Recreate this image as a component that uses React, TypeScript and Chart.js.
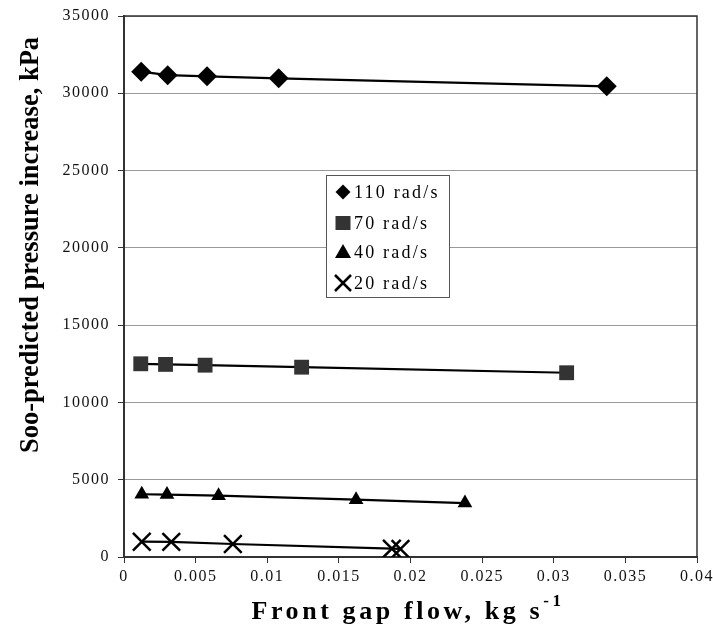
import React, { useEffect, useRef } from 'react';
import { Chart, registerables } from 'chart.js';

Chart.register(...registerables);

// ---- data ----
const seriesLabels = ['110 rad/s', '70 rad/s', '40 rad/s', '20 rad/s'];
const flow110 = [0.0012, 0.00305, 0.0058, 0.0108, 0.0337];
const press110 = [31400, 31170, 31100, 30970, 30450];
const flow70 = [0.00117, 0.0029, 0.00566, 0.0124, 0.0309];
const press70 = [12500, 12460, 12410, 12280, 11920];
const flow40 = [0.00124, 0.003, 0.0066, 0.0162, 0.0238];
const press40 = [4060, 4040, 3970, 3710, 3490];
const flow20 = [0.00124, 0.0033, 0.0076, 0.0187, 0.0193];
const press20 = [990, 980, 840, 540, 520];
const xTickLabels = ['0', '0.005', '0.01', '0.015', '0.02', '0.025', '0.03', '0.035', '0.04'];
const yTickLabels = ['0', '5000', '10000', '15000', '20000', '25000', '30000', '35000'];
const xTitle = 'Front gap flow, kg s';
const xTitleSup = '-1';
const yTitle = 'Soo-predicted pressure increase, kPa';

const SERIF = '"Liberation Serif", "Times New Roman", serif';
const markerStyles = ['rectRot', 'rect', 'triangle', 'crossRot'];
const markerRadius = [10, 10.5, 8.5, 12.5];
const markerFill = ['#000', '#333', '#000', '#000'];

function pts(xs: number[], ys: number[]) {
  return xs.map((x, i) => ({ x, y: ys[i] }));
}

function drawMarker(ctx: CanvasRenderingContext2D, style: string, x: number, y: number, fill: string) {
  ctx.save();
  ctx.fillStyle = fill;
  ctx.strokeStyle = fill;
  ctx.beginPath();
  if (style === 'rectRot') {
    const s = 7.5;
    ctx.moveTo(x, y - s);
    ctx.lineTo(x + s, y);
    ctx.lineTo(x, y + s);
    ctx.lineTo(x - s, y);
    ctx.closePath();
    ctx.fill();
  } else if (style === 'rect') {
    ctx.rect(x - 7.5, y - 7, 15, 14);
    ctx.fill();
  } else if (style === 'triangle') {
    ctx.moveTo(x, y - 8);
    ctx.lineTo(x + 8, y + 6);
    ctx.lineTo(x - 8, y + 6);
    ctx.closePath();
    ctx.fill();
  } else {
    ctx.lineWidth = 2.5;
    ctx.moveTo(x - 8, y - 8);
    ctx.lineTo(x + 8, y + 8);
    ctx.moveTo(x + 8, y - 8);
    ctx.lineTo(x - 8, y + 8);
    ctx.stroke();
  }
  ctx.restore();
}

const decorPlugin = {
  id: 'decor',
  beforeDraw(chart: any) {
    const ctx = chart.ctx as any;
    ctx.letterSpacing = '1.5px';
  },
  beforeDatasetsDraw(chart: any) {
    const ctx = chart.ctx as any;
    ctx.letterSpacing = '0px';
  },
  afterDraw(chart: any) {
    const ctx = chart.ctx as any;
    const a = chart.chartArea;
    ctx.save();
    // frame top/right
    ctx.strokeStyle = '#333';
    ctx.lineWidth = 1.5;
    ctx.beginPath();
    ctx.moveTo(a.left, a.top);
    ctx.lineTo(a.right, a.top);
    ctx.lineTo(a.right, a.bottom);
    ctx.stroke();

    // legend
    const bx = 326, by = 175, bw = 123, bh = 122;
    ctx.fillStyle = '#fff';
    ctx.fillRect(bx, by, bw, bh);
    ctx.strokeStyle = '#555';
    ctx.lineWidth = 1;
    ctx.strokeRect(bx + 0.5, by + 0.5, bw, bh);
    const rowY = [192, 223, 252, 283];
    ctx.font = `18px ${SERIF}`;
    ctx.letterSpacing = '2.2px';
    ctx.textBaseline = 'middle';
    ctx.textAlign = 'left';
    seriesLabels.forEach((lab, i) => {
      drawMarker(ctx, markerStyles[i], 343, rowY[i], markerFill[i]);
      ctx.fillStyle = '#000';
      ctx.fillText(lab, 354, rowY[i] + 1);
    });

    // x title
    ctx.fillStyle = '#000';
    ctx.font = `bold 26px ${SERIF}`;
    ctx.letterSpacing = '3.6px';
    ctx.textBaseline = 'alphabetic';
    const w1 = ctx.measureText(xTitle).width;
    ctx.font = `bold 17px ${SERIF}`;
    const w2 = ctx.measureText(xTitleSup).width;
    const total = w1 + w2;
    const cx = 408;
    const startX = cx - total / 2;
    ctx.font = `bold 26px ${SERIF}`;
    ctx.fillText(xTitle, startX, 619);
    ctx.font = `bold 17px ${SERIF}`;
    ctx.fillText(xTitleSup, startX + w1, 606);

    // y title
    ctx.translate(38, 245);
    ctx.rotate(-Math.PI / 2);
    ctx.font = `bold 26.5px ${SERIF}`;
    ctx.letterSpacing = '0px';
    ctx.textAlign = 'center';
    ctx.fillText(yTitle, 0, 0);
    ctx.restore();
    ctx.letterSpacing = '0px';
  },
};

export default function App() {
  const ref = useRef<HTMLCanvasElement | null>(null);
  useEffect(() => {
    if (!ref.current) return;
    const data = [
      pts(flow110, press110),
      pts(flow70, press70),
      pts(flow40, press40),
      pts(flow20, press20),
    ];
    const chart = new Chart(ref.current, {
      type: 'scatter',
      data: {
        datasets: data.map((d, i) => ({
          label: seriesLabels[i],
          data: d,
          showLine: true,
          borderColor: '#000',
          borderWidth: 2.2,
          backgroundColor: markerFill[i],
          pointStyle: markerStyles[i] as any,
          pointRadius: markerRadius[i],
          pointBackgroundColor: markerFill[i],
          pointBorderColor: markerFill[i],
          pointBorderWidth: i === 3 ? 2.5 : 0,
        })),
      },
      options: {
        responsive: false,
        animation: false,
        devicePixelRatio: 1,
        layout: { padding: { top: 16, right: 16, left: 0, bottom: 0 } },
        plugins: { legend: { display: false }, tooltip: { enabled: false } },
        scales: {
          x: {
            type: 'linear',
            min: 0,
            max: 0.04,
            afterBuildTicks: (s: any) => {
              s.ticks = xTickLabels.map((_, i) => ({ value: i * 0.005 }));
            },
            ticks: {
              autoSkip: false,
              maxRotation: 0,
              color: '#111',
              padding: 4,
              font: { family: SERIF, size: 16 },
              callback: (_v: any, i: number) => xTickLabels[i],
            },
            grid: { drawOnChartArea: false, drawTicks: true, tickLength: 6, tickColor: '#333' },
            border: { display: true, color: '#333', width: 2 },
            afterFit: (s: any) => {
              s.height = 80;
              s.paddingLeft = 0;
              s.paddingRight = 0;
            },
          },
          y: {
            type: 'linear',
            min: 0,
            max: 35000,
            afterBuildTicks: (s: any) => {
              s.ticks = yTickLabels.map((_, i) => ({ value: i * 5000 }));
            },
            ticks: {
              autoSkip: false,
              color: '#111',
              padding: 8,
              font: { family: SERIF, size: 16 },
              callback: (_v: any, i: number) => yTickLabels[i],
            },
            grid: { color: '#999', lineWidth: 1, drawTicks: true, tickLength: 6, tickColor: '#333' },
            border: { display: true, color: '#333', width: 2 },
            afterFit: (s: any) => {
              s.width = 124;
              s.paddingTop = 0;
              s.paddingBottom = 0;
            },
          },
        },
      },
      plugins: [decorPlugin],
    });
    return () => chart.destroy();
  }, []);
  return (
    <div style={{ position: 'absolute', left: 0, top: 0, width: 713, height: 637, background: '#fff' }}>
      <canvas ref={ref} width={713} height={637} />
    </div>
  );
}
